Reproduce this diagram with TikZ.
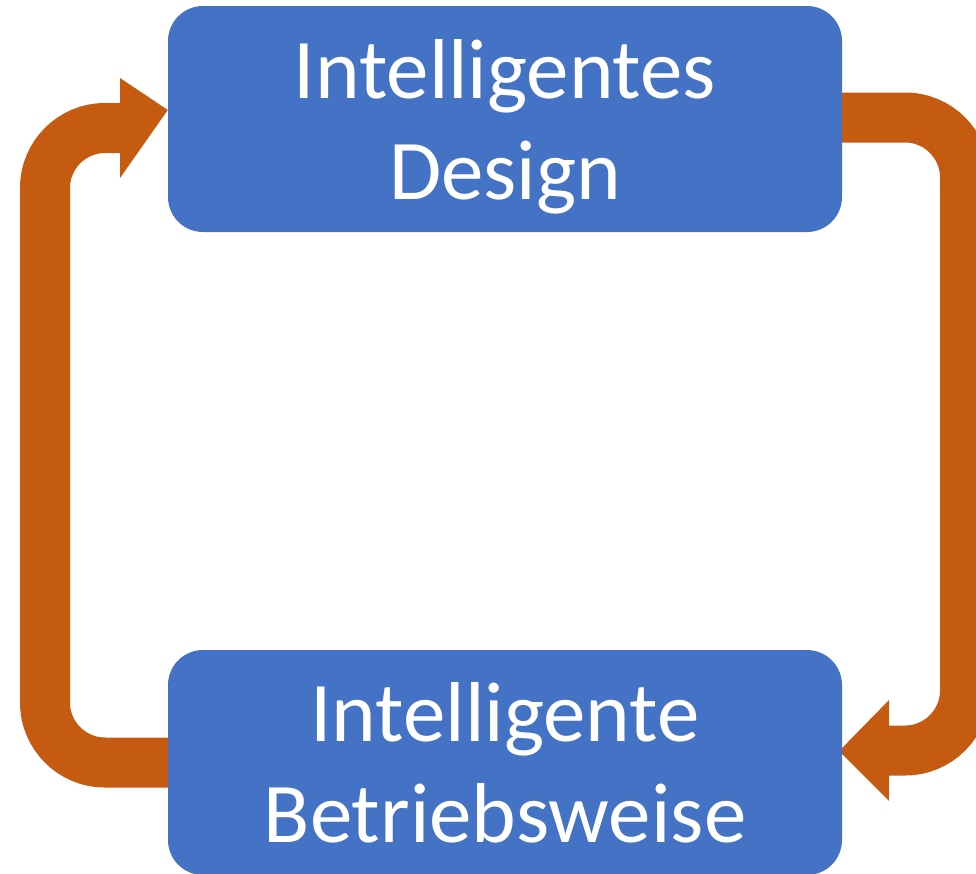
\documentclass[tikz,border=0pt]{standalone}
\usepackage{fontspec}
\setmainfont{Carlito}
\usetikzlibrary{calc,backgrounds}
\definecolor{boxblue}{HTML}{4472C4}
\definecolor{arrorange}{HTML}{C55A11}
\tikzset{
  box/.style={fill=boxblue, draw=none, rounded corners=35pt, minimum width=674pt,
    inner sep=0pt, text=white, align=center,
    font=\fontsize{85}{101}\selectfont},
  shaft/.style={draw=arrorange, line width=50pt, rounded corners=60pt},
  head/.style={fill=arrorange, draw=none}
}
\begin{document}
\begin{tikzpicture}[x=1pt,y=-1pt]
\useasboundingbox (0,0) rectangle (976,873);
\clip (0,0) rectangle (976,873);
\node[box, minimum height=226pt] (top) at (505,119) {Intelligentes\\\smash{Design}};
\node[box, minimum height=225pt] (bot) at (505,762.5) {Intelligente\\Betriebsweise};
\begin{scope}[on background layer]
  % left arrow: bottom box -> top box
  \draw[shaft] (bot.west) -- (45,762.5) -- (45,128) -- (121,128);
  \fill[head] (120,78) -- ($(top.west)+(0,-9)$) -- (120,178) -- cycle;
  % right arrow: top box -> bottom box
  \draw[shaft] ($(top.east)+(0,-1.5)$) -- (965,117.5) -- (965,750.5) -- (888,750.5);
  \fill[head] (889,700) -- ($(bot.east)+(-3,-11.5)$) -- (889,801) -- cycle;
\end{scope}
\end{tikzpicture}
\end{document}
